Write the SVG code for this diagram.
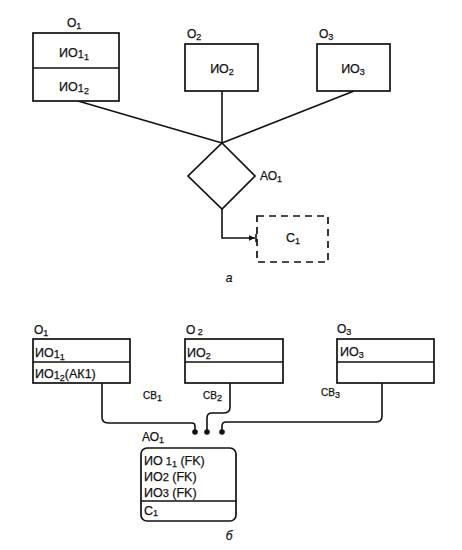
<svg xmlns="http://www.w3.org/2000/svg" width="462" height="550" viewBox="0 0 462 550">
<style>
text{font-family:"Liberation Sans",Arial,sans-serif;fill:#111;stroke:#111;stroke-width:0.25}
.lb{font-size:12px}
.bx{font-size:12.5px}
.sm{font-size:11px}
.cv{font-size:10px}
.s{font-size:9px}
.it{font-style:italic;font-size:12px}
.box{fill:#fff;stroke:#111;stroke-width:1.7}
.ln{fill:none;stroke:#111;stroke-width:1.6}
.dash{fill:#fff;stroke:#111;stroke-width:1.7;stroke-dasharray:7,5}
</style>
<defs>
<marker id="arr" viewBox="0 0 10 10" refX="9" refY="5" markerWidth="7" markerHeight="7" orient="auto" markerUnits="userSpaceOnUse">
<path d="M0,1 L9,5 L0,9 Z" fill="#111"/>
</marker>
</defs>
<rect width="462" height="550" fill="#fff"/>

<g id="connectors">
<line class="ln" x1="78" y1="101" x2="222" y2="143"/>
<line class="ln" x1="222" y1="91" x2="222" y2="143"/>
<line class="ln" x1="354" y1="91" x2="222" y2="143"/>
<path class="ln" d="M222,209 V238 H255" marker-end="url(#arr)"/>
<path class="ln" d="M102,383 V417 Q102,423 108,423 H192 Q195,423 195,426 V432"/>
<path class="ln" d="M230,383 V407 Q230,413 224,413 H212 Q207,413 207,418 V432"/>
<path class="ln" d="M382,383 V416 Q382,422 376,422 H226 Q222,422 222,426 V432"/>
<circle cx="195" cy="432" r="2.8" fill="#111"/>
<circle cx="207" cy="432" r="2.8" fill="#111"/>
<circle cx="222" cy="432" r="2.8" fill="#111"/>
</g>

<g id="a-O1">
<text class="lb" x="67" y="27">O<tspan class="s" dy="2">1</tspan></text>
<rect class="box" x="33" y="33" width="86" height="68"/>
<line class="ln" x1="33" y1="68" x2="119" y2="68"/>
<text class="bx" x="74" y="57" text-anchor="middle">ИО<tspan class="sm" dy="1">1</tspan><tspan class="s" dy="2">1</tspan></text>
<text class="bx" x="74" y="91" text-anchor="middle">ИО<tspan class="sm" dy="1">1</tspan><tspan class="s" dy="2">2</tspan></text>
</g>
<g id="a-O2">
<text class="lb" x="187" y="38">O<tspan class="s" dy="2">2</tspan></text>
<rect class="box" x="185" y="44" width="73" height="47"/>
<text class="bx" x="222" y="73" text-anchor="middle">ИО<tspan class="s" dy="2">2</tspan></text>
</g>
<g id="a-O3">
<text class="lb" x="319" y="38">O<tspan class="s" dy="2">3</tspan></text>
<rect class="box" x="317" y="44" width="73" height="47"/>
<text class="bx" x="353" y="73" text-anchor="middle">ИО<tspan class="s" dy="2">3</tspan></text>
</g>
<g id="a-AO1">
<polygon class="box" points="222,143 255,176 222,209 188,176"/>
<text class="lb" x="260" y="180">АО<tspan class="s" dy="2">1</tspan></text>
</g>
<g id="a-C1">
<rect class="dash" x="257" y="216" width="71" height="46"/>
<line class="ln" x1="256" y1="234" x2="256" y2="242"/>
<text class="bx" x="293" y="242" text-anchor="middle">С<tspan class="s" dy="2">1</tspan></text>
</g>
<text class="it" x="229" y="282" text-anchor="middle">а</text>

<g id="b-O1">
<text class="lb" x="34" y="334">O<tspan class="s" dy="2">1</tspan></text>
<rect class="box" x="33" y="339" width="97" height="44"/>
<line class="ln" x1="33" y1="362" x2="130" y2="362"/>
<text class="bx" x="35" y="357">ИО<tspan class="sm" dy="1">1</tspan><tspan class="s" dy="2">1</tspan></text>
<text class="bx" x="35" y="378">ИО<tspan class="sm" dy="1">1</tspan><tspan class="s" dy="2">2</tspan><tspan dy="-3">(АК1)</tspan></text>
</g>
<g id="b-O2">
<text class="lb" x="186" y="334">O<tspan class="s" dy="1"> 2</tspan></text>
<rect class="box" x="185" y="339" width="98" height="44"/>
<line class="ln" x1="185" y1="362" x2="283" y2="362"/>
<text class="bx" x="187" y="357">ИО<tspan class="s" dy="2">2</tspan></text>
</g>
<g id="b-O3">
<text class="lb" x="337" y="333">O<tspan class="s" dy="2">3</tspan></text>
<rect class="box" x="337" y="339" width="97" height="44"/>
<line class="ln" x1="337" y1="362" x2="434" y2="362"/>
<text class="bx" x="340" y="356">ИО<tspan class="s" dy="2">3</tspan></text>
</g>
<g id="labels-b">
<text class="cv" x="143" y="399">СВ<tspan class="s" dy="2">1</tspan></text>
<text class="cv" x="203" y="399">СВ<tspan class="s" dy="2">2</tspan></text>
<text class="cv" x="321" y="396">СВ<tspan class="s" dy="2">3</tspan></text>
</g>
<g id="b-AO1">
<text class="lb" x="142" y="441">АО<tspan class="s" dy="2">1</tspan></text>
<rect class="box" x="141" y="448" width="95" height="73" rx="6"/>
<line class="ln" x1="141" y1="501" x2="236" y2="501"/>
<text class="bx" x="144" y="465">ИО<tspan class="sm"> 1</tspan><tspan class="s" dy="2">1</tspan><tspan dy="-2">  (FK)</tspan></text>
<text class="bx" x="144" y="481">ИО<tspan class="sm">2</tspan><tspan>  (FK)</tspan></text>
<text class="bx" x="144" y="497">ИО<tspan class="sm">3</tspan><tspan> (FK)</tspan></text>
<text class="bx" x="144" y="515">С<tspan class="s" dy="1">1</tspan></text>
</g>
<text class="it" x="229" y="540" text-anchor="middle">б</text>
</svg>
